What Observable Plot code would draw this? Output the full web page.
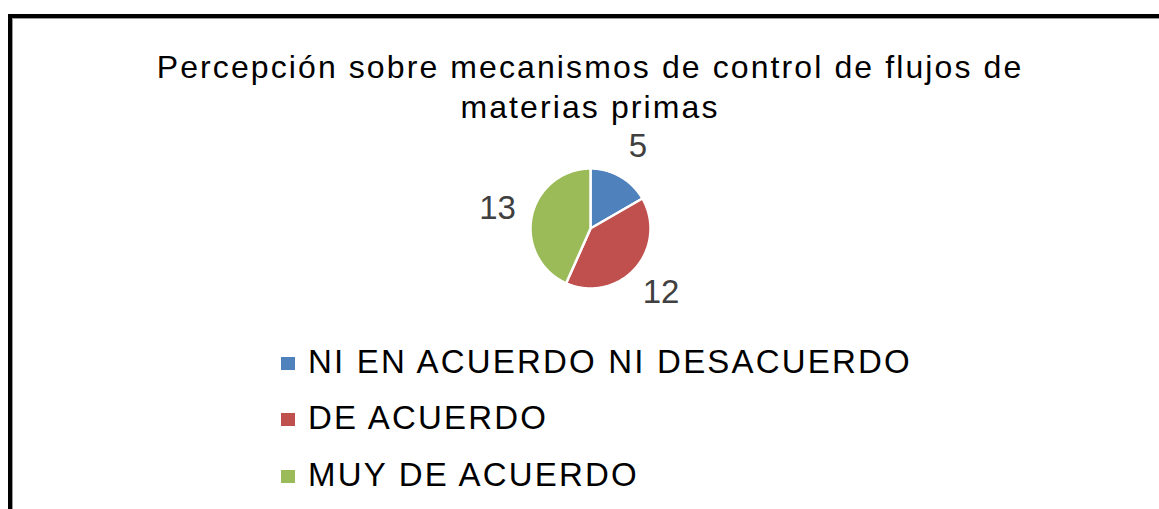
<!DOCTYPE html>
<html>
<head>
<meta charset="utf-8">
<script src="https://cdn.jsdelivr.net/npm/d3@7"></script>
<script src="https://cdn.jsdelivr.net/npm/@observablehq/plot@0.6"></script>
<style>
  html, body { margin: 0; padding: 0; background: #fff; overflow: hidden; width: 1159px; height: 509px; }
  body { position: relative; font-family: "Liberation Sans", Arial, sans-serif; }
  #frame { position: absolute; left: 8px; top: 14px; width: 1200px; height: 600px;
           border: 4px solid #000; box-sizing: border-box; box-shadow: inset 1px 1px 0 #9a9a9a; }
  #title { position: absolute; left: 8px; width: 1164px; top: 47px; text-align: center;
           font-size: 32px; line-height: 40px; letter-spacing: 2.1px; color: #000; }
  #chart { position: absolute; left: 459.5px; top: 128.3px; }
  #legend { position: absolute; left: 281px; top: 333.5px; font-size: 33px; line-height: 56.5px;
            letter-spacing: 2.2px; color: #000; }
  .item { position: relative; white-space: nowrap; height: 56.5px; }
  .sw { position: absolute; left: 0; top: 23px; width: 14px; height: 13px; }
  .lab { position: absolute; left: 27px; top: 0; }
</style>
</head>
<body>
<div id="frame"></div>
<div id="title">Percepción sobre mecanismos de control de flujos de<br>materias primas</div>
<div id="chart"></div>
<div id="legend"></div>
<script>
const categories = ["NI EN ACUERDO NI DESACUERDO", "DE ACUERDO", "MUY DE ACUERDO"];
const values = [5, 12, 13];
const colors = ["#4F81BD", "#C0504D", "#9BBB59"];

const R = 60;          // pie radius in plot units
const LABEL_R = 95;    // label distance from center

const pieGen = d3.pie().sort(null).value(d => d.value);
const slices = pieGen(categories.map((c, i) => ({category: c, value: values[i]})));

// polygon points for each slice (angles measured clockwise from 12 o'clock)
const polys = [];
for (const s of slices) {
  const cat = s.data.category;
  polys.push({category: cat, x: 0, y: 0});
  const n = Math.max(2, Math.ceil((s.endAngle - s.startAngle) / (Math.PI / 180)));
  for (let k = 0; k <= n; k++) {
    const a = s.startAngle + (s.endAngle - s.startAngle) * k / n;
    polys.push({category: cat, x: R * Math.sin(a), y: R * Math.cos(a)});
  }
  polys.push({category: cat, x: 0, y: 0});
}

const labels = slices.map(s => {
  const a = (s.startAngle + s.endAngle) / 2;
  return {text: String(s.data.value), x: LABEL_R * Math.sin(a), y: LABEL_R * Math.cos(a)};
});

const plot = Plot.plot({
  width: 260,
  height: 200,
  margin: 0,
  x: {domain: [-130, 130], axis: null},
  y: {domain: [-100, 100], axis: null},
  color: {domain: categories, range: colors},
  style: {background: "transparent", fontFamily: "'Liberation Sans', Arial, sans-serif"},
  marks: [
    Plot.line(polys, {x: "x", y: "y", z: "category", fill: "category", stroke: "#fff", strokeWidth: 2.5, curve: "linear-closed"}),
    Plot.text(labels, {x: "x", y: "y", text: "text", fill: "#404040", fontSize: 33})
  ]
});
document.getElementById("chart").appendChild(plot);

const colorScale = plot.scale("color");
const legend = document.getElementById("legend");
categories.forEach((c, i) => {
  const item = document.createElement("div");
  item.className = "item";
  const sw = document.createElement("div");
  sw.className = "sw";
  sw.style.background = colorScale.range[i];
  const lab = document.createElement("span");
  lab.className = "lab";
  lab.textContent = c;
  item.appendChild(sw);
  item.appendChild(lab);
  legend.appendChild(item);
});
</script>
</body>
</html>
